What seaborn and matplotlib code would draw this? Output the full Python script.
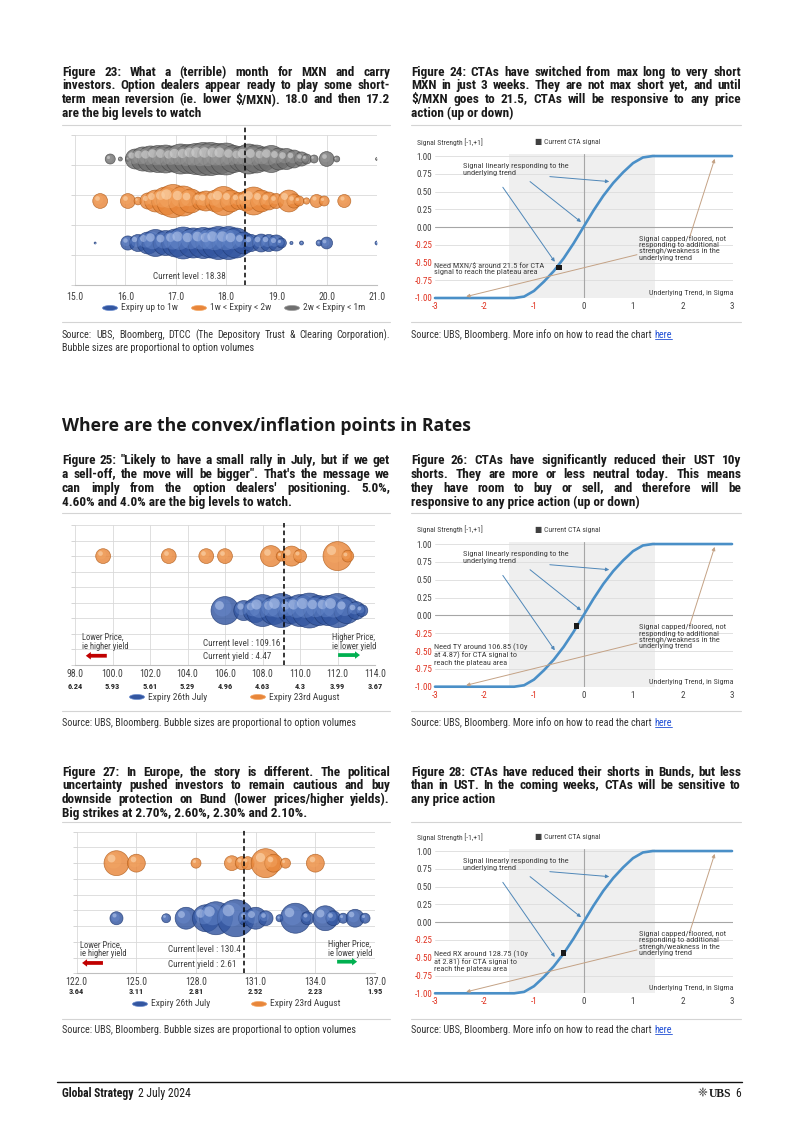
import numpy as np
import pandas as pd
import matplotlib
matplotlib.use('Agg')
import matplotlib.pyplot as plt
import seaborn as sns
from matplotlib import font_manager
from matplotlib.patches import Ellipse
from matplotlib.lines import Line2D
from matplotlib.transforms import ScaledTranslation

# ---------------- values ----------------
# Figure 23: USD/MXN strikes, bubble area = option volume
mxn_ticks = [15.0, 16.0, 17.0, 18.0, 19.0, 20.0, 21.0]
mxn_current = 18.38
mxn_1w_x = [15.4, 16.05, 16.25, 16.45, 16.6, 16.8, 17.0, 17.15, 17.35, 17.55, 17.7, 17.85, 18.05,
            18.2, 18.35, 18.5, 18.7, 18.85, 19.0, 19.1, 19.3, 19.5, 19.85, 20.0, 21.0]
mxn_1w_vol = [0.4, 20, 29, 48, 73, 62, 78, 102, 90, 96, 90, 109, 109,
              90, 48, 29, 32, 29, 26, 10, 1, 1.6, 3.6, 14, 1.6]
mxn_2w_x = [15.5, 16.05, 16.25, 16.45, 16.6, 16.8, 16.95, 17.15, 17.3, 17.5, 17.6, 17.8, 17.95,
            18.1, 18.25, 18.4, 18.55, 18.7, 18.85, 19.0, 19.25, 19.35, 19.45, 19.6, 19.8, 19.95, 20.35]
mxn_2w_vol = [22, 22, 6, 26, 48, 78, 109, 90, 58, 32, 40, 48, 84,
              48, 29, 40, 78, 48, 32, 22, 48, 20, 10, 4, 17, 10, 17]
mxn_1m_x = [15.7, 15.9, 16.05, 16.2, 16.35, 16.5, 16.65, 16.8, 16.95, 17.1, 17.25, 17.4, 17.55,
            17.7, 17.85, 18.0, 18.15, 18.3, 18.45, 18.6, 18.75, 18.9, 19.05, 19.2, 19.35, 19.5,
            19.6, 19.75, 20.0, 20.2, 21.0]
mxn_1m_vol = [10, 1.6, 2.5, 40, 58, 68, 73, 78, 68, 90, 84, 96, 109,
              109, 96, 102, 73, 62, 90, 78, 58, 73, 48, 44, 32, 20,
              10, 6.4, 22, 3.6, 0.9]

# Figure 25: TY futures strikes
ty_ticks = [98.0, 100.0, 102.0, 104.0, 106.0, 108.0, 110.0, 112.0, 114.0]
ty_yields = ['6.24', '5.93', '5.61', '5.29', '4.96', '4.63', '4.3', '3.99', '3.67']
ty_current, ty_current_yield = 109.16, 4.47
ty_jul_x = [106.0, 107.0, 107.6, 108.0, 108.6, 109.0, 109.5, 110.0, 110.5, 111.0, 111.5, 112.0, 112.5, 113.0, 113.3]
ty_jul_vol = [78, 40, 58, 102, 78, 116, 68, 102, 122, 90, 90, 116, 68, 32, 14]
ty_aug_x = [99.5, 103.0, 105.0, 106.0, 108.45, 109.0, 109.55, 110.0, 112.0, 112.55]
ty_aug_vol = [22, 22, 22, 22, 44, 10, 40, 17, 84, 14]

# Figure 27: Bund (RX) strikes
rx_ticks = [122.0, 125.0, 128.0, 131.0, 134.0, 137.0]
rx_yields = ['3.64', '3.11', '2.81', '2.52', '2.23', '1.95']
rx_current, rx_current_yield = 130.4, 2.61
rx_jul_x = [124.0, 126.5, 127.5, 128.5, 129.0, 130.0, 130.5, 131.0, 131.5, 132.2, 133.0, 133.6, 134.5, 134.9, 135.4, 136.0, 136.5]
rx_jul_vol = [17, 8, 48, 73, 109, 137, 22, 48, 22, 5, 90, 17, 62, 22, 10, 32, 10]
rx_aug_x = [124.0, 125.0, 128.0, 129.8, 130.3, 130.6, 131.5, 131.9, 132.5, 134.0]
rx_aug_vol = [62, 32, 10, 22, 17, 17, 84, 32, 10, 32]

# Figures 24/26/28: CTA signal template
cta_sigma = [-3, -2, -1.4, -1.2, -1.0, -0.8, -0.6, -0.4, -0.2, 0, 0.2, 0.4, 0.6, 0.8, 1.0, 1.2, 1.4, 2, 3]
cta_signal = [-1, -1, -1, -0.98, -0.9, -0.77, -0.62, -0.44, -0.23, 0, 0.23, 0.44, 0.62, 0.77, 0.9, 0.98, 1, 1, 1]
cta_linear_zone = [-1.5, 1.45]
cta_yticks = [-1.0, -0.75, -0.5, -0.25, 0.0, 0.25, 0.5, 0.75, 1.0]
cta_xticks = [-3, -2, -1, 0, 1, 2, 3]
mxn_cta_now = (-0.5, -0.57)
ust_cta_now = (-0.14, -0.15)
bund_cta_now = (-0.4, -0.43)

# ---------------- page setup ----------------
W, H = 802, 1134
sns.set_theme(style='white')
names = {f.name for f in font_manager.fontManager.ttflist}
NARROW = next((n for n in ['Liberation Sans Narrow', 'Roboto Condensed', 'Open Sans Condensed']
               if n in names), 'Roboto')
plt.rcParams['font.family'] = [NARROW, 'DejaVu Sans']
TXT = '#404040'
INK = '#1a1a1a'

fig = plt.figure(figsize=(W / 100, H / 100), dpi=100)
fig.patch.set_facecolor('white')
renderer = fig.canvas.get_renderer()

BLUE = ('#3356a0', '#1f3a75', '#6a8cce', '#b3c6ec')
ORANGE = ('#e8863a', '#b35f1c', '#f4a866', '#fcd7b0')
GREY = ('#6f6f6f', '#474747', '#9c9c9c', '#d6d6d6')
K = 5.18  # points^2 per unit of volume


def fx(x):
    return x / W


def fy(y):
    return 1 - y / H


def add_ax(l, t, r, b):
    return fig.add_axes([l / W, 1 - b / H, (r - l) / W, (b - t) / H])


def ftext(x, y, s, size, weight='normal', color=INK, ha='left', va='baseline', **kw):
    return fig.text(fx(x), fy(y), s, fontsize=size, fontweight=weight, color=color,
                    ha=ha, va=va, parse_math=False, **kw)


def width_of(s, size, weight='normal', **kw):
    t = fig.text(0, 0, s, fontsize=size, fontweight=weight, parse_math=False, **kw)
    w = t.get_window_extent(renderer).width
    t.remove()
    return w


def hline(x0, x1, y, color='#d4d4d4', lw=0.8):
    fig.add_artist(Line2D([fx(x0), fx(x1)], [fy(y), fy(y)], color=color, lw=lw,
                          transform=fig.transFigure))


def word(x, base, s, size, weight, color):
    # Agg rounds (baseline + descent) to a pixel; take the fractional descent off first
    # (bracketed words also stick out at the top and line up fine without it)
    t = ftext(x, base - 0.02, s, size, weight, color)
    if not any(c in s for c in '()[]'):
        d = renderer.get_text_width_height_descent(s, t.get_fontproperties(), ismath=False)[2]
        t.set_y(fy(base - (d - np.floor(d)) + 0.02))
    return t


def paragraph(lines, x0, x1, y0, step, size, weight='normal', color=INK):
    # justified block: every line but the last is stretched to the column width
    for i, line in enumerate(lines):
        base = round(y0 + i * step)
        words = line.split(' ')
        if i == len(lines) - 1 or len(words) == 1:
            word(x0, base, line, size, weight, color)
            continue
        ws = [width_of(w, size, weight) for w in words]
        gap = (x1 - x0 - sum(ws)) / (len(words) - 1)
        x = x0
        for w, wd in zip(words, ws):
            word(x, base, w, size, weight, color)
            x += wd + gap


def fit_size(lines, width, weight='bold', base=9.0):
    widest = max(width_of(l, base, weight) for l in lines)
    return base * width * 0.985 / widest


def spheres(ax, xs, vols, level, pal):
    df = pd.DataFrame({'x': xs, 'y': [level] * len(xs), 'vol': vols})
    sns.scatterplot(data=df, x='x', y='y', size='vol', sizes=(0, 200 * K), size_norm=(0, 200),
                    color=pal[0], edgecolor=pal[1], linewidth=0.5, alpha=0.82,
                    legend=False, ax=ax, zorder=3)
    for xi, vi in zip(xs, vols):
        si = vi * K
        r = np.sqrt(si) / 2
        for frac, off, col, a in [(0.42, 0.24, pal[2], 0.45), (0.1, 0.42, pal[3], 0.6)]:
            tr = ax.transData + ScaledTranslation(-off * r / 72, off * r / 72, fig.dpi_scale_trans)
            ax.scatter([xi], [level], s=si * frac, color=col, alpha=a, lw=0, transform=tr, zorder=4)


def finish_bubble(ax, ticks, ymax, cur, cur_top, pad):
    ax.set_xlim(ticks[0], ticks[-1])
    ax.set_ylim(0, ymax)
    ax.set_xticks(ticks)
    ax.set_xticklabels([f'{v:.1f}' for v in ticks])
    ax.set_yticks(list(range(0, ymax + 1)))
    ax.set_xlabel('')
    ax.set_ylabel('')
    ax.grid(True, color='#d9d9d9', lw=0.6)
    ax.set_axisbelow(True)
    for sp in ax.spines.values():
        sp.set_visible(False)
    ax.spines['bottom'].set_visible(True)
    ax.spines['bottom'].set_color('#bfbfbf')
    ax.spines['bottom'].set_linewidth(0.8)
    ax.tick_params(axis='x', length=0, pad=pad, labelsize=7, labelcolor=TXT)
    ax.tick_params(axis='y', left=True, length=3, width=0.6, color='#cfcfcf', labelleft=False)
    ax.axvline(cur, 0, cur_top, color='black', lw=1.1, ls=(0, (3, 2)), clip_on=False, zorder=6)


def legend_item(cx, cy, pal, label):
    fig.add_artist(Ellipse((fx(cx), fy(cy)), 15 / W, 5 / H, transform=fig.transFigure,
                           facecolor=pal[0], edgecolor=pal[2], lw=0.5))
    ftext(cx + 11, cy, label, 6.8, color=TXT, va='center')


def price_arrows(ax, red, green, y_red, y_green):
    for (x0, x1), yy, col in [(red, y_red, '#c00000'), (green, y_green, '#00b050')]:
        ax.annotate('', xy=(x1, yy), xytext=(x0, yy), xycoords='axes fraction',
                    arrowprops=dict(arrowstyle='simple,head_width=0.9,head_length=0.6,tail_width=0.45',
                                    color=col, lw=0, shrinkA=0, shrinkB=0, mutation_scale=6))


def cta_chart(top, bottom, now, need_text, need_top):
    ax = add_ax(435, top, 733, bottom)
    ax.axvspan(cta_linear_zone[0], cta_linear_zone[1], color='#efefef', lw=0, zorder=0)
    for v in cta_yticks:
        ax.axhline(v, color='#a6a6a6' if v == 0 else '#dcdcdc', lw=0.8 if v == 0 else 0.6, zorder=1)
    ax.axvline(0, color='#a6a6a6', lw=0.8, zorder=1)
    sns.lineplot(x=cta_sigma, y=cta_signal, sort=False, estimator=None, color='#4a8fc7', lw=1.9,
                 ax=ax, zorder=3)
    ax.lines[-1].set_clip_on(False)
    sns.scatterplot(x=[now[0]], y=[now[1]], marker='s', s=16, color='#1a1a1a', edgecolor='none',
                    ax=ax, zorder=5, legend=False)
    ax.set_xlim(-3, 3.02)
    ax.set_ylim(-1, 1.03)
    ax.set_xticks(cta_xticks)
    ax.set_xticklabels([str(v) for v in cta_xticks])
    ax.set_yticks(cta_yticks)
    ax.set_yticklabels([f'{v:.2f}' for v in cta_yticks])
    for lbl, v in zip(ax.get_xticklabels(), cta_xticks):
        lbl.set_color('#e0301e' if v < 0 else TXT)
    for lbl, v in zip(ax.get_yticklabels(), cta_yticks):
        lbl.set_color('#e0301e' if v < 0 else TXT)
    ax.tick_params(length=0, labelsize=6.5)
    ax.tick_params(axis='x', pad=3)
    ax.tick_params(axis='y', pad=2)
    ax.set_xlabel('')
    ax.set_ylabel('')
    for sp in ax.spines.values():
        sp.set_visible(False)

    fs = 6.0
    ax.text(-0.06, 1.085, 'Signal Strength [-1,+1]', transform=ax.transAxes, fontsize=5.5,
            color=TXT, va='center')
    ax.text(0.335, 1.08, '■ Current CTA signal', transform=ax.transAxes, fontsize=5.5,
            color=TXT, va='center')
    ax.text(-2.43, 0.9, 'Signal linearly responding to the\nunderlying trend', fontsize=fs,
            color=TXT, va='top', linespacing=1.15)
    ax.text(1.12, -0.115, 'Signal capped/floored, not\nresponding to additional\n'
            'strengh/weakness in the\nunderlying trend', fontsize=fs, color=TXT, va='top',
            linespacing=1.05)
    ax.text(-3.02, need_top, need_text, fontsize=fs, color=TXT, va='top', linespacing=1.1,
            parse_math=False)
    ax.text(3.03, -0.93, 'Underlying Trend, in Sigma', fontsize=5.8, color=TXT, ha='right',
            va='center')
    for tail, head in [((-1.63, 0.56), (-0.58, -0.49)), ((-1.08, 0.64), (-0.05, 0.07)),
                       ((-0.68, 0.71), (0.52, 0.64))]:
        ax.annotate('', xy=head, xytext=tail, arrowprops=dict(arrowstyle='-|>', color='#4f87b8',
                    lw=0.7, mutation_scale=5, shrinkA=0, shrinkB=0), zorder=4)
    for tail, head in [((1.08, -0.39), (-2.37, -0.98)), ((2.15, -0.13), (2.65, 0.96))]:
        ax.annotate('', xy=head, xytext=tail, arrowprops=dict(arrowstyle='-|>', color='#c4a285',
                    lw=0.7, mutation_scale=5, shrinkA=0, shrinkB=0), zorder=4)
    return ax


# ---------------- titles and text ----------------
L0, L1, R0, R1 = 62, 390, 411, 741
STEP = 13.7

t23 = ['Figure 23: What a (terrible) month for MXN and carry',
       'investors. Option dealers appear ready to play some short-',
       'term mean reversion (ie. lower $/MXN). 18.0 and then 17.2',
       'are the big levels to watch']
t24 = ['Figure 24: CTAs have switched from max long to very short',
       'MXN in just 3 weeks. They are not max short yet, and until',
       '$/MXN goes to 21.5, CTAs will be responsive to any price',
       'action (up or down)']
t25 = ['Figure 25: "Likely to have a small rally in July, but if we get',
       'a sell-off, the move will be bigger". That\'s the message we',
       'can imply from the option dealers\' positioning. 5.0%,',
       '4.60% and 4.0% are the big levels to watch.']
t26 = ['Figure 26: CTAs have significantly reduced their UST 10y',
       'shorts. They are more or less neutral today. This means',
       'they have room to buy or sell, and therefore will be',
       'responsive to any price action (up or down)']
t27 = ['Figure 27: In Europe, the story is different. The political',
       'uncertainty pushed investors to remain cautious and buy',
       'downside protection on Bund (lower prices/higher yields).',
       'Big strikes at 2.70%, 2.60%, 2.30% and 2.10%.']
t28 = ['Figure 28: CTAs have reduced their shorts in Bunds, but less',
       'than in UST. In the coming weeks, CTAs will be sensitive to',
       'any price action']

TFS = fit_size(t23 + t24 + t25 + t26 + t27 + t28, L1 - L0)
paragraph(t23, L0, L1, 75.5, STEP, TFS, 'bold')
paragraph(t24, R0, R1, 75.5, STEP, TFS, 'bold')
paragraph(t25, L0, L1, 464.5, STEP, TFS, 'bold')
paragraph(t26, R0, R1, 464.5, STEP, TFS, 'bold')
paragraph(t27, L0, L1, 775.5, STEP, TFS, 'bold')
paragraph(t28, R0, R1, 775.5, STEP, TFS, 'bold')

heading = 'Where are the convex/inflation points in Rates'
hfam = ['Open Sans', 'DejaVu Sans']
hsize = 12 * 408 / width_of(heading, 12, 'bold', family=hfam)
ftext(L0, 430.98, heading, hsize, 'bold', INK, family=hfam)

for y in (125, 513, 822):
    hline(L0, L1, y)
    hline(R0, R1, y)
for y in (322, 711, 1019):
    hline(L0, L1, y)
    hline(R0, R1, y)

src = 'Source: UBS, Bloomberg. More info on how to read the chart '
SFS = 7 * 263 / width_of(src + 'here', 7)
paragraph(['Source: UBS, Bloomberg, DTCC (The Depository Trust & Clearing Corporation).',
           'Bubble sizes are proportional to option volumes'], L0, L1, 338, 13, SFS, color='#333333')
ftext(L0, 725.98, 'Source: UBS, Bloomberg. Bubble sizes are proportional to option volumes', SFS,
      color='#333333')
ftext(L0, 1032.98, 'Source: UBS, Bloomberg. Bubble sizes are proportional to option volumes', SFS,
      color='#333333')
wsrc = width_of(src, SFS)
for y in (337.98, 725.98, 1032.98):
    ftext(R0, y, src, SFS, color='#333333')
    ftext(R0 + wsrc, y, 'here', SFS, color='#1f4fd6')
    hline(R0 + wsrc + 1, R0 + wsrc + width_of('here', SFS), y + 1.5, color='#1f4fd6', lw=0.6)

# footer
hline(57, 742, 1082, color='#111111', lw=1.0)
ftext(62, 1096.98, 'Global Strategy', 8.4, 'bold', INK)
ftext(62 + width_of('Global Strategy', 8.4, 'bold') + 5, 1096.98, '2 July 2024', 8.4, 'normal', INK)
ftext(741, 1096.98, '6', 8.4, 'normal', INK, ha='right')
ftext(731, 1096.98, 'UBS', 8.4, 'bold', INK, ha='right', family=['Liberation Serif', 'DejaVu Serif'])
ftext(707, 1096.98, '❈', 8.5, 'normal', '#333333', ha='right', family=['DejaVu Sans'])

# ---------------- Figure 23 ----------------
ax1 = add_ax(75, 135, 377, 285)
spheres(ax1, mxn_1w_x, mxn_1w_vol, 1.4, BLUE)
spheres(ax1, mxn_2w_x, mxn_2w_vol, 2.8, ORANGE)
spheres(ax1, mxn_1m_x, mxn_1m_vol, 4.2, GREY)
finish_bubble(ax1, mxn_ticks, 5, mxn_current, 1.053, 5)
ax1.text(17.28, 0.3, f'Current level : {mxn_current}', fontsize=6.6, color=TXT, ha='center',
         va='center')
legend_item(110, 308, BLUE, 'Expiry up to 1w')
legend_item(199, 308, ORANGE, '1w < Expiry < 2w')
legend_item(292, 308, GREY, '2w < Expiry < 1m')

# ---------------- Figure 25 ----------------
ax3 = add_ax(75, 525, 375, 665)
spheres(ax3, ty_jul_x, ty_jul_vol, 3.5, BLUE)
spheres(ax3, ty_aug_x, ty_aug_vol, 7, ORANGE)
finish_bubble(ax3, ty_ticks, 9, ty_current, 1.015, 3)
for xv, yl in zip(ty_ticks, ty_yields):
    ax3.text(xv, -0.152, yl, transform=ax3.get_xaxis_transform(), fontsize=6, fontweight='bold',
             color='#262626', ha='center', va='center')
ax3.text(0.022, 0.165, 'Lower Price,\nie higher yield', transform=ax3.transAxes, fontsize=6.2,
         color=TXT, va='center', linespacing=1.0)
ax3.text(0.856, 0.165, 'Higher Price,\nie lower yield', transform=ax3.transAxes, fontsize=6.2,
         color=TXT, va='center', linespacing=1.0)
ax3.text(0.426, 0.157, f'Current level : {ty_current}', transform=ax3.transAxes, fontsize=6.6,
         color=TXT, va='center')
ax3.text(0.426, 0.06, f'Current yield : {ty_current_yield}', transform=ax3.transAxes,
         fontsize=6.6, color=TXT, va='center')
price_arrows(ax3, (0.106, 0.036), (0.877, 0.95), 0.066, 0.071)
legend_item(137, 697, BLUE, 'Expiry 26th July')
legend_item(258, 697, ORANGE, 'Expiry 23rd August')

# ---------------- Figure 27 ----------------
ax5 = add_ax(76.7, 831.7, 375, 973.3)
spheres(ax5, rx_jul_x, rx_jul_vol, 3.5, BLUE)
spheres(ax5, rx_aug_x, rx_aug_vol, 7, ORANGE)
finish_bubble(ax5, rx_ticks, 9, rx_current, 1.01, 2.5)
for xv, yl in zip(rx_ticks, rx_yields):
    ax5.text(xv, -0.132, yl, transform=ax5.get_xaxis_transform(), fontsize=6, fontweight='bold',
             color='#262626', ha='center', va='center')
ax5.text(0.011, 0.17, 'Lower Price,\nie higher yield', transform=ax5.transAxes, fontsize=6.2,
         color=TXT, va='center', linespacing=1.0)
ax5.text(0.842, 0.17, 'Higher Price,\nie lower yield', transform=ax5.transAxes, fontsize=6.2,
         color=TXT, va='center', linespacing=1.0)
ax5.text(0.307, 0.165, f'Current level : {rx_current}', transform=ax5.transAxes, fontsize=6.6,
         color=TXT, va='center')
ax5.text(0.307, 0.064, f'Current yield : {rx_current_yield}', transform=ax5.transAxes,
         fontsize=6.6, color=TXT, va='center')
price_arrows(ax5, (0.088, 0.018), (0.873, 0.94), 0.073, 0.082)
legend_item(140, 1004, BLUE, 'Expiry 26th July')
legend_item(259, 1004, ORANGE, 'Expiry 23rd August')

# ---------------- CTA figures 24 / 26 / 28 ----------------
cta_chart(153.9, 298, mxn_cta_now, 'Need MXN/$ around 21.5 for CTA\nsignal to reach the plateau area', -0.5)
cta_chart(541.9, 686.7, ust_cta_now,
          'Need TY around 106.85 (10y\nat 4.87) for CTA signal to\nreach the plateau area', -0.39)
cta_chart(848.9, 993.3, bund_cta_now,
          'Need RX around 128.75 (10y\nat 2.81) for CTA signal to\nreach the plateau area', -0.39)

fig.savefig('out.png', dpi=100, facecolor='white')
